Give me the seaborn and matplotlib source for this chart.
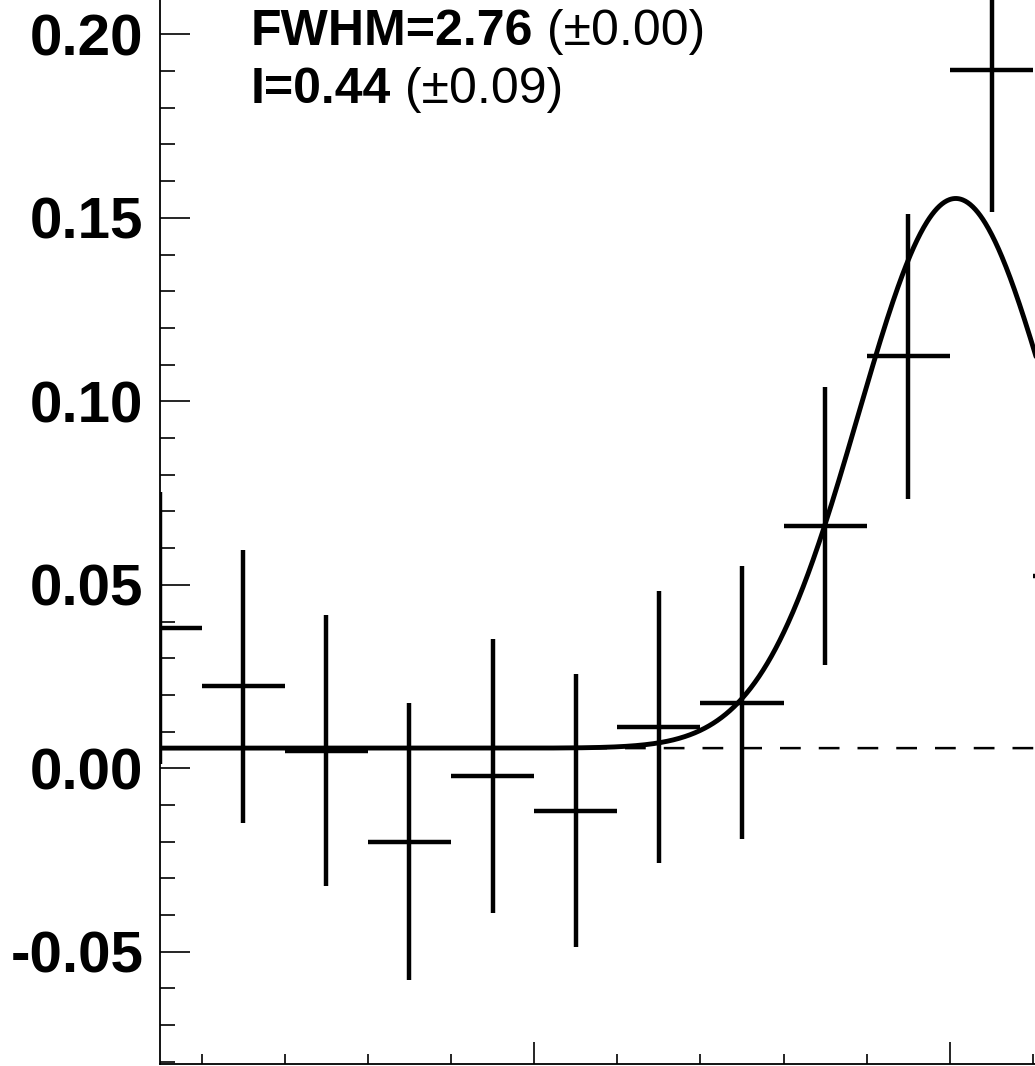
import numpy as np
import pandas as pd
import matplotlib
matplotlib.use("Agg")
import matplotlib.pyplot as plt
from matplotlib.ticker import MultipleLocator, FuncFormatter
import seaborn as sns

# ---------------- data ----------------
bin_centers = [-9.5, -8.5, -7.5, -6.5, -5.5, -4.5, -3.5, -2.5, -1.5, -0.5, 0.5, 1.5]
values = [0.0383, 0.0224, 0.0048, -0.0200, -0.0020, -0.0116,
          0.0113, 0.0179, 0.0661, 0.1123, 0.1903, 0.0524]
errors = [0.0371, 0.0372, 0.0370, 0.0377, 0.0373, 0.0372,
          0.0371, 0.0373, 0.0379, 0.0388, 0.0386, 0.0380]
bin_half_width = 0.5

# fit parameters (gaussian on constant background)
fwhm, fwhm_err = 2.76, 0.00
integral, integral_err = 0.44, 0.09
peak_mean = 0.07
background = 0.0055

# ---------------- style ----------------
sns.set_style("white")
plt.rcParams["font.family"] = ["Liberation Sans", "DejaVu Sans"]
plt.rcParams["text.color"] = "black"
plt.rcParams["xtick.color"] = "black"
plt.rcParams["ytick.color"] = "black"
plt.rcParams["axes.edgecolor"] = "black"

W, H = 1035, 1066
fig = plt.figure(figsize=(W / 100, H / 100), dpi=100)

px_per_unit_x = 83.15
px_per_unit_y = 3670.0
xlim = (-9.5, 10.5)
ylim = (-0.0805, 0.21)
left_px = 160.0
zero_y_px = 768.3
top_px = zero_y_px - ylim[1] * px_per_unit_y
bottom_px = zero_y_px - ylim[0] * px_per_unit_y
ax = fig.add_axes([left_px / W,
                   1 - bottom_px / H,
                   (xlim[1] - xlim[0]) * px_per_unit_x / W,
                   (bottom_px - top_px) / H])

df = pd.DataFrame({"x": bin_centers, "y": values, "err": errors})

# fit curve and background evaluated from the fit parameters
xs = np.linspace(xlim[0], xlim[1], 2000)
sigma = fwhm / (2 * np.sqrt(2 * np.log(2)))
amp = integral / (sigma * np.sqrt(2 * np.pi))
curve = background + amp * np.exp(-0.5 * ((xs - peak_mean) / sigma) ** 2)
fit_df = pd.DataFrame({"x": xs, "fit": curve, "bkg": np.full_like(xs, background)})

sns.lineplot(data=fit_df, x="x", y="bkg", ax=ax, color="black",
             linewidth=1.8, linestyle=(0, (8.3, 7.2)), zorder=2)
sns.lineplot(data=fit_df, x="x", y="fit", ax=ax, color="black",
             linewidth=3.5, zorder=4)

# data points with error bars
ax.errorbar(df["x"], df["y"], yerr=df["err"], xerr=bin_half_width,
            fmt="none", ecolor="black", elinewidth=3.2, capsize=0, zorder=3)

ax.set_xlim(*xlim)
ax.set_ylim(*ylim)
ax.set_xlabel("")
ax.set_ylabel("")

# ticks
ax.yaxis.set_major_locator(MultipleLocator(0.05))
ax.yaxis.set_minor_locator(MultipleLocator(0.01))
ax.xaxis.set_major_locator(MultipleLocator(5))
ax.xaxis.set_minor_locator(MultipleLocator(1))
ax.yaxis.set_major_formatter(FuncFormatter(lambda v, p: f"{round(v, 2) + 0:.2f}"))
ax.tick_params(axis="y", which="major", direction="in", length=21.5, width=1.2,
               labelsize=42, pad=12, left=True, right=False, colors="black")
ax.tick_params(axis="y", which="minor", direction="in", length=10.5, width=1.2,
               left=True, right=False, colors="black")
ax.tick_params(axis="x", which="major", direction="in", length=15.5, width=1.2,
               bottom=True, top=False, labelbottom=False, colors="black")
ax.tick_params(axis="x", which="minor", direction="in", length=7.5, width=1.2,
               bottom=True, top=False, colors="black")
for lbl in ax.get_yticklabels():
    lbl.set_fontweight("bold")
    lbl.set_color("black")
for s in ax.spines.values():
    s.set_linewidth(1.3)
    s.set_color("black")

# fit result text
fs = 36
t1 = fig.text(251 / W, 1 - 45 / H, f"FWHM={fwhm:.2f}", fontsize=fs,
              fontweight="bold", va="baseline", ha="left", color="black")
ax.annotate(f" (\u00b1{fwhm_err:.2f})", xy=(1, 0), xycoords=t1,
            fontsize=fs, va="bottom", ha="left", color="black",
            annotation_clip=False)
t2 = fig.text(251 / W, 1 - 103 / H, f"I={integral:.2f}", fontsize=fs,
              fontweight="bold", va="baseline", ha="left", color="black")
ax.annotate(f" (\u00b1{integral_err:.2f})", xy=(1, 0), xycoords=t2,
            fontsize=fs, va="bottom", ha="left", color="black",
            annotation_clip=False)

fig.savefig("out.png", dpi=100)
